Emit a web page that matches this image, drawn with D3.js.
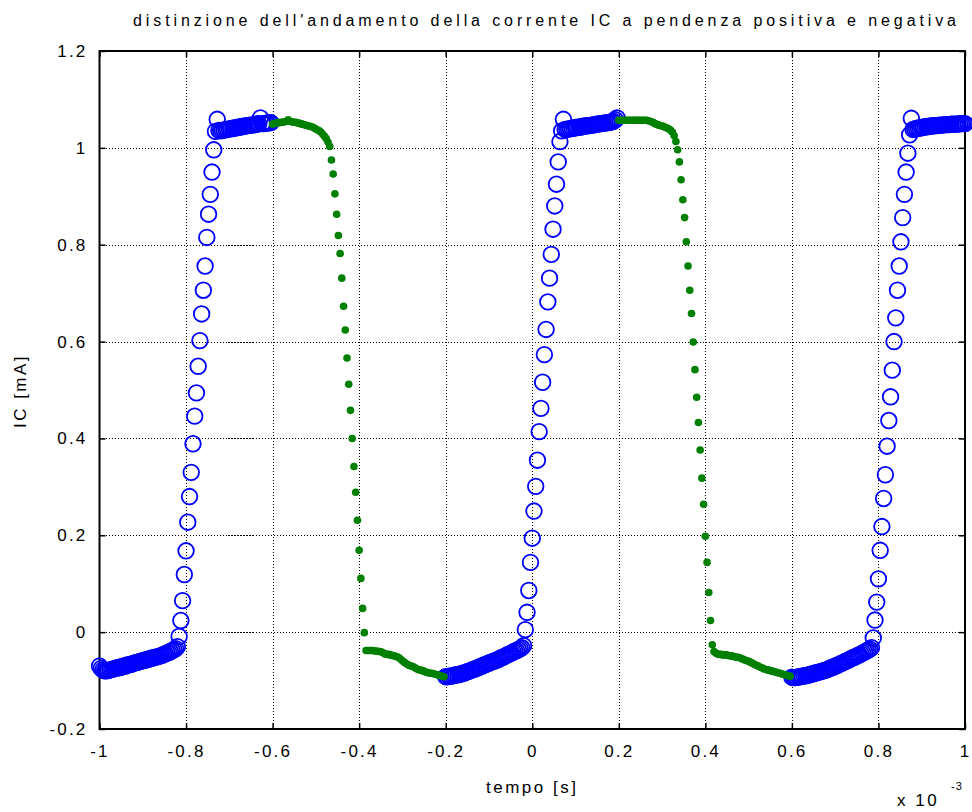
<!DOCTYPE html>
<html><head><meta charset="utf-8">
<script src="https://cdn.jsdelivr.net/npm/d3@7"></script>
<style>body{margin:0;background:#fff}svg{display:block}</style>
</head><body>
<svg id="chart" width="972" height="812"></svg>
<script>
// ---------------- data ----------------
const titleText = "distinzione dell'andamento della corrente IC a pendenza positiva e negativa";
const xLabelText = "tempo [s]";
const yLabelText = "IC [mA]";
const xTicks = [-1, -0.8, -0.6, -0.4, -0.2, 0, 0.2, 0.4, 0.6, 0.8, 1];
const xTickLabels = ["-1", "-0.8", "-0.6", "-0.4", "-0.2", "0", "0.2", "0.4", "0.6", "0.8", "1"];
const yTicks = [-0.2, 0, 0.2, 0.4, 0.6, 0.8, 1, 1.2];
const yTickLabels = ["-0.2", "0", "0.2", "0.4", "0.6", "0.8", "1", "1.2"];
const sampleStep = 0.004; // ms between samples (time axis in units of 1e-3 s)

// positive slope segment 1: starts at t = -1.000
const pos1Start = -1.000;
const pos1 = [
 -0.070,-0.075,-0.078,-0.080,-0.080,-0.079,-0.078,-0.077,-0.076,-0.075,
 -0.074,-0.073,-0.073,-0.071,-0.070,-0.070,-0.068,-0.067,-0.067,-0.065,
 -0.064,-0.063,-0.062,-0.061,-0.060,-0.059,-0.058,-0.057,-0.056,-0.055,
 -0.054,-0.053,-0.052,-0.051,-0.050,-0.049,-0.048,-0.046,-0.045,-0.043,
 -0.042,-0.040,-0.038,-0.036,-0.034,-0.030,
 -0.009,0.024,0.065,0.119,0.168,0.227,0.280,0.330,0.389,0.446,0.494,0.549,
 0.602,0.657,0.706,0.756,0.815,0.863,0.904,0.950,0.996,1.034,1.059,
 1.036,1.035,1.036,1.037,1.038,1.038,1.039,1.040,1.040,1.041,1.042,1.042,
 1.043,1.044,1.044,1.045,1.046,1.046,1.047,1.047,1.048,1.048,1.049,1.050,
 1.062,1.050,1.050,1.051,1.051,1.052,1.052
];
// negative slope segment 1: starts at t = -0.600
const neg1Start = -0.600;
const neg1 = [
 1.049,1.050,1.051,1.052,1.052,1.053,1.053,1.054,1.055,1.058,
 1.055,1.054,1.053,1.053,1.052,1.051,1.050,1.049,1.048,1.047,
 1.046,1.045,1.044,1.043,1.041,1.039,1.037,1.035,1.032,1.028,
 1.024,1.019,1.012,1.003,
 0.975,0.946,0.905,0.863,0.819,0.782,0.731,0.673,0.624,0.566,0.512,
 0.458,0.400,0.342,0.289,0.231,0.169,0.111,0.049,-0.001,-0.038,
 -0.038,-0.038,-0.038,-0.038,-0.039,-0.039,-0.040,-0.040,-0.041,-0.043,
 -0.045,-0.046,-0.046,-0.047,-0.048,-0.049,-0.050,-0.051,-0.053,-0.056,
 -0.059,-0.062,-0.065,-0.067,-0.069,-0.070,-0.071,-0.073,-0.075,-0.077,
 -0.078,-0.079,-0.080,-0.082,-0.083,-0.084,-0.085,-0.085,-0.086,-0.087,
 -0.088,-0.089,-0.090,-0.091,-0.092
];
// positive slope segment 2: starts at t = -0.200
const pos2Start = -0.200;
const pos2 = [
 -0.092,-0.092,-0.091,-0.091,-0.090,-0.089,-0.088,-0.088,-0.087,-0.086,
 -0.085,-0.084,-0.082,-0.081,-0.080,-0.078,-0.077,-0.076,-0.074,-0.073,
 -0.071,-0.070,-0.068,-0.067,-0.065,-0.064,-0.062,-0.061,-0.060,-0.058,
 -0.057,-0.055,-0.053,-0.052,-0.050,-0.048,-0.046,-0.045,-0.043,-0.041,
 -0.039,-0.038,-0.036,-0.034,-0.032,-0.028,
 0.005,0.041,0.086,0.144,0.194,0.250,0.301,0.355,0.414,0.462,0.516,0.573,
 0.625,0.682,0.731,0.780,0.832,0.880,0.925,0.971,1.013,1.035,1.059,
 1.038,1.038,1.039,1.040,1.040,1.041,1.042,1.042,1.043,1.043,
 1.044,1.045,1.045,1.046,1.046,1.047,1.047,1.048,1.049,1.049,
 1.050,1.050,1.051,1.051,1.052,1.052,1.053,1.054,1.055,1.058,1.062
];
// negative slope segment 2: starts at t = 0.200
const neg2Start = 0.200;
const neg2 = [
 1.057,1.057,1.057,1.057,1.057,1.057,1.057,1.057,1.057,1.057,
 1.057,1.057,1.057,1.057,1.057,1.057,1.057,
 1.056,1.055,1.054,1.052,1.050,1.048,1.047,1.046,1.045,1.044,1.042,1.041,
 1.039,1.036,1.032,1.025,
 1.013,0.996,0.971,0.934,0.893,0.856,0.806,0.756,0.706,0.658,0.599,0.542,
 0.485,0.433,0.376,0.318,0.264,0.198,0.144,0.082,0.024,-0.026,-0.040,
 -0.043,-0.045,-0.046,-0.046,-0.047,-0.047,-0.047,-0.048,-0.049,-0.049,
 -0.050,-0.051,-0.052,-0.052,-0.053,-0.055,-0.056,-0.058,-0.059,-0.060,
 -0.062,-0.064,-0.066,-0.068,-0.069,-0.071,-0.073,-0.074,-0.076,-0.077,
 -0.078,-0.079,-0.080,-0.081,-0.082,-0.083,-0.084,-0.085,-0.086,-0.087,
 -0.088,-0.089,-0.090,-0.091
];
// positive slope segment 3: starts at t = 0.600
const pos3Start = 0.600;
const pos3 = [
 -0.093,-0.094,-0.094,-0.093,-0.092,-0.092,-0.091,-0.090,-0.090,-0.089,
 -0.088,-0.087,-0.086,-0.085,-0.084,-0.083,-0.082,-0.081,-0.080,-0.079,
 -0.078,-0.076,-0.075,-0.073,-0.072,-0.070,-0.069,-0.067,-0.065,-0.064,
 -0.062,-0.060,-0.059,-0.057,-0.055,-0.053,-0.052,-0.050,-0.048,-0.047,
 -0.045,-0.043,-0.041,-0.039,-0.037,-0.035,-0.032,
 -0.012,0.025,0.062,0.110,0.169,0.218,0.276,0.325,0.384,0.437,0.486,0.541,
 0.600,0.649,0.706,0.756,0.806,0.856,0.904,0.950,0.989,1.027,1.061,
 1.038,1.039,1.040,1.041,1.041,1.042,1.043,1.043,1.044,1.044,
 1.045,1.045,1.046,1.046,1.046,1.047,1.047,1.047,1.048,1.048,
 1.048,1.048,1.049,1.049,1.049,1.049,1.049,1.050,1.050,1.050,1.050
];

// ---------------- build ----------------
const toPoints = (start, vals) => vals.map((v, i) => ({t: start + i * sampleStep, v}));
const positive = [].concat(toPoints(pos1Start, pos1), toPoints(pos2Start, pos2), toPoints(pos3Start, pos3));
const negative = [].concat(toPoints(neg1Start, neg1), toPoints(neg2Start, neg2));

const W = 972, H = 812;
const L = 99.5, R = 965, T = 51, B = 729;
const FONT = "'Liberation Sans', Arial, Helvetica, sans-serif";

const svg = d3.select("#chart");
svg.append("rect").attr("width", W).attr("height", H).attr("fill", "#fff");

const x = d3.scaleLinear().domain([-1, 1]).range([L, R]);
const y = d3.scaleLinear().domain([-0.2, 1.2]).range([B, T]);

// grid
const grid = svg.append("g").attr("stroke", "#000").attr("stroke-width", 1)
  .attr("stroke-dasharray", "1.2,1.8").attr("shape-rendering", "crispEdges");
grid.selectAll(".gx").data(xTicks.slice(1, -1)).join("line")
  .attr("x1", d => Math.round(x(d)) + 0.5).attr("x2", d => Math.round(x(d)) + 0.5)
  .attr("y1", T).attr("y2", B);
grid.selectAll(".gy").data(yTicks.slice(1, -1)).join("line")
  .attr("y1", d => Math.round(y(d)) + 0.5).attr("y2", d => Math.round(y(d)) + 0.5)
  .attr("x1", L).attr("x2", R);

// axes (ticks inward on all four sides)
const tickLen = 6;
const axB = d3.axisBottom(x).tickValues(xTicks).tickSize(-tickLen).tickFormat((d, i) => xTickLabels[i]).tickPadding(16);
const axT = d3.axisTop(x).tickValues(xTicks).tickSize(-tickLen).tickFormat("");
const axL = d3.axisLeft(y).tickValues(yTicks).tickSize(-tickLen).tickFormat((d, i) => yTickLabels[i]).tickPadding(12);
const axR = d3.axisRight(y).tickValues(yTicks).tickSize(-tickLen).tickFormat("");

function styleAxis(g) {
  g.select(".domain").remove();
  g.selectAll(".tick line").attr("stroke", "#000").attr("stroke-width", 1.5);
  g.selectAll(".tick text").attr("fill", "#000").style("font-family", FONT)
   .style("font-size", "17px").style("letter-spacing", "2.2px");
}
svg.append("g").attr("transform", `translate(0,${B})`).call(axB).call(styleAxis)
  .selectAll(".tick text").attr("dy", "0.71em");
svg.append("g").attr("transform", `translate(0,${T})`).call(axT).call(styleAxis);
svg.append("g").attr("transform", `translate(${L},0)`).call(axL).call(styleAxis);
svg.append("g").attr("transform", `translate(${R},0)`).call(axR).call(styleAxis);

// box
svg.append("rect").attr("x", L).attr("y", T).attr("width", R - L).attr("height", B - T)
  .attr("fill", "none").attr("stroke", "#000").attr("stroke-width", 2);

// data marks
const plot = svg.append("g");
plot.selectAll("circle.pos").data(positive).join("circle").attr("class", "pos")
  .attr("cx", d => x(d.t)).attr("cy", d => y(d.v)).attr("r", 7.8)
  .attr("fill", "none").attr("stroke", "#0000ff").attr("stroke-width", 1.8);
plot.selectAll("circle.neg").data(negative).join("circle").attr("class", "neg")
  .attr("cx", d => x(d.t)).attr("cy", d => y(d.v)).attr("r", 3.8)
  .attr("fill", "#008000").attr("stroke", "none");

// title and labels
svg.append("text").attr("x", 133).attr("y", 26).attr("textLength", 823).attr("lengthAdjust", "spacing")
  .style("font-family", FONT).style("font-size", "16px").attr("fill", "#000").text(titleText);
svg.append("text").attr("x", (L + R) / 2).attr("y", 793).attr("text-anchor", "middle")
  .style("font-family", FONT).style("font-size", "17px").style("letter-spacing", "2.5px").attr("fill", "#000").text(xLabelText);
svg.append("text").attr("transform", `translate(26,${(T + B) / 2 + 1}) rotate(-90)`).attr("text-anchor", "middle")
  .style("font-family", FONT).style("font-size", "17px").style("letter-spacing", "2.5px").attr("fill", "#000").text(yLabelText);
svg.append("text").attr("x", 897).attr("y", 806)
  .style("font-family", FONT).style("font-size", "17px").style("letter-spacing", "2.5px").attr("fill", "#000").text("x 10");
svg.append("text").attr("x", 951).attr("y", 790)
  .style("font-family", FONT).style("font-size", "11px").style("letter-spacing", "1px").attr("fill", "#000").text("-3");
</script>
</body></html>
